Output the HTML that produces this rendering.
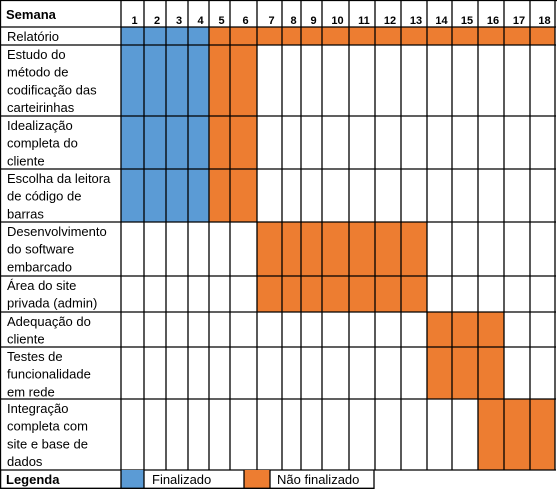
<!DOCTYPE html>
<html><head><meta charset="utf-8">
<style>
html,body{margin:0;padding:0;background:#fff;width:557px;height:489px;overflow:hidden}
svg{display:block}
text{font-family:"Liberation Sans",sans-serif;fill:#000}
</style></head>
<body>
<svg id="chart" width="557" height="489"></svg>
<script>
const weeks=[1,2,3,4,5,6,7,8,9,10,11,12,13,14,15,16,17,18];
const taskLines=[["Relatório"],["Estudo do","método de","codificação das","carteirinhas"],["Idealização","completa do","cliente"],["Escolha da leitora","de código de","barras"],["Desenvolvimento","do software","embarcado"],["Área do site","privada (admin)"],["Adequação do","cliente"],["Testes de","funcionalidade","em rede"],["Integração","completa com","site e base de","dados"]];
const startWeek=[1,1,1,1,7,7,14,14,16];
const endWeek=[18,6,6,6,13,13,16,16,18];
const doneUntil=[4,4,4,4,0,0,0,0,0];

const colX=[121,144,166,188,209,230,257,282,301,322,349,375,401,427,452,478,504,530,555];
const rowY=[27,45,116,169,222,276,312,347,399,470];
const BLUE="#5B9BD5",ORANGE="#ED7D31";
const svg=document.getElementById('chart');
const NS="http://www.w3.org/2000/svg";
function el(tag,attrs,parent){const e=document.createElementNS(NS,tag);for(const k in attrs)e.setAttribute(k,attrs[k]);(parent||svg).appendChild(e);return e;}
function xOf(w){return colX[w-1];}
function wOf(w){return colX[w]-colX[w-1];}

// header
const h=el('text',{x:6,y:19,'font-size':13,'font-weight':'bold'});


h.textContent="Semana";
weeks.forEach((w,i)=>{
  const t=el('text',{x:(xOf(w)+xOf(w)+wOf(w))/2+2,y:24,'font-size':11,'font-weight':'bold','text-anchor':'middle'});
  
  
  t.textContent=w;
});

// bars
taskLines.forEach((lines,i)=>{
  for(let w=startWeek[i];w<=endWeek[i];w++){
    const r=el('rect',{x:xOf(w),y:rowY[i],width:wOf(w),height:rowY[i+1]-rowY[i],fill:w<=doneUntil[i]?BLUE:ORANGE});
    
    
  }
  const t=el('text',{x:7,y:rowY[i]+14,'font-size':13});
  
  
  lines.forEach((ln,j)=>{const s=el('tspan',{x:7,y:rowY[i]+14+j*17.7},t);s.textContent=ln;});
});

// grid
const g=el('g',{stroke:'#000','stroke-width':1.3,fill:'none'});


el('line',{x1:0.5,y1:0,x2:0.5,y2:489},g);
colX.forEach(x=>el('line',{x1:x,y1:0,x2:x,y2:470},g));
el('line',{x1:0,y1:0.5,x2:557,y2:0.5},g);
rowY.forEach(y=>el('line',{x1:0,y1:y,x2:556,y2:y},g));

// legend row
const lg=el('g',{});


const lb=el('rect',{x:121,y:470,width:23,height:18,fill:BLUE},lg);


const lo=el('rect',{x:244,y:470,width:26,height:18,fill:ORANGE},lg);


const lgl=el('g',{stroke:'#000','stroke-width':1.3,fill:'none'},lg);
[0.5,121,144,244,270,374].forEach(x=>el('line',{x1:x,y1:470,x2:x,y2:489},lgl));
el('line',{x1:0,y1:488.3,x2:374,y2:488.3},lgl);
const t1=el('text',{x:6,y:484,'font-size':13,'font-weight':'bold'},lg);


t1.textContent="Legenda";
const t2=el('text',{x:152,y:484,'font-size':13},lg);


t2.textContent="Finalizado";
const t3=el('text',{x:277,y:484,'font-size':13},lg);


t3.textContent="Não finalizado";
</script>
</body></html>
